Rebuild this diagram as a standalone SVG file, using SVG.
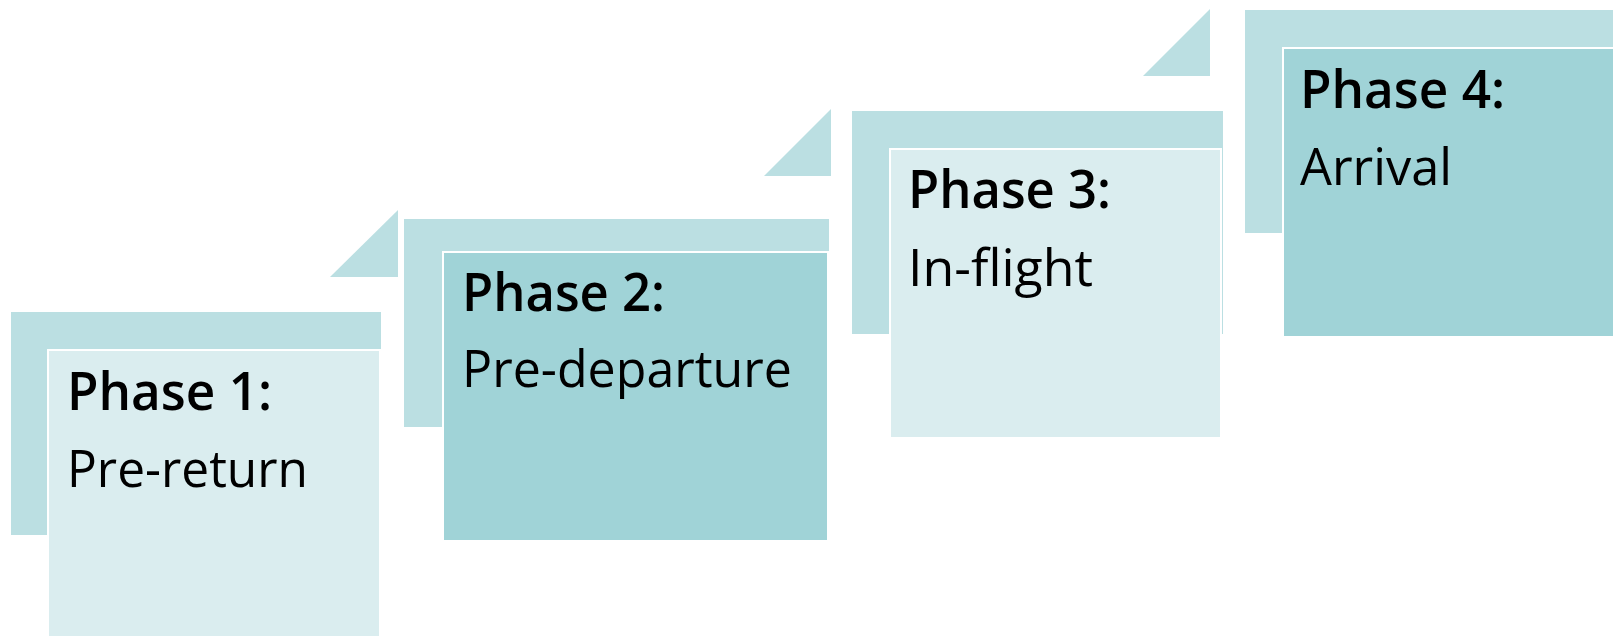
<svg xmlns="http://www.w3.org/2000/svg" width="1613" height="636" viewBox="0 0 1613 636">
<style>
.back{fill:#BBDFE2}
.tri{fill:#BBDFE2}
.light{fill:#DAEDEF;stroke:#FFFFFF;stroke-width:2}
.dark{fill:#A0D3D7;stroke:#FFFFFF;stroke-width:2}
.t1{font-family:"Open Sans","Liberation Sans",Arial,sans-serif;font-size:52px;font-weight:600;fill:#000}
.t2{font-family:"Open Sans","Liberation Sans",Arial,sans-serif;font-size:52px;font-weight:400;fill:#000}
</style>
<rect width="1613" height="636" fill="#FFFFFF"/>
<g id="connectors">
<polygon class="tri" points="330,277 398,210 398,277"/>
<polygon class="tri" points="764,176 831,109 831,176"/>
<polygon class="tri" points="1143,76 1210,9 1210,76"/>
</g>
<g id="phase1">
<rect class="back" x="11" y="312" width="370" height="223"/>
<rect class="light" x="48" y="350" width="332" height="287"/>
<text class="t1" x="67" y="410" textLength="205" lengthAdjust="spacingAndGlyphs">Phase 1:</text>
<text class="t2" x="67" y="487" textLength="241" lengthAdjust="spacingAndGlyphs">Pre-return</text>
</g>
<g id="phase2">
<rect class="back" x="404" y="219" width="425" height="208"/>
<rect class="dark" x="443" y="252" width="385" height="289"/>
<text class="t1" x="462" y="311" textLength="203" lengthAdjust="spacingAndGlyphs">Phase 2:</text>
<text class="t2" x="462" y="387" textLength="330" lengthAdjust="spacingAndGlyphs">Pre-departure</text>
</g>
<g id="phase3">
<rect class="back" x="852" y="111" width="371" height="223"/>
<rect class="light" x="890" y="149" width="331" height="289"/>
<text class="t1" x="908" y="208" textLength="203" lengthAdjust="spacingAndGlyphs">Phase 3:</text>
<text class="t2" x="908" y="286" textLength="185" lengthAdjust="spacingAndGlyphs">In-flight</text>
</g>
<g id="phase4">
<rect class="back" x="1245" y="10" width="370" height="223"/>
<rect class="dark" x="1283" y="48" width="332" height="289"/>
<text class="t1" x="1300" y="108" textLength="205" lengthAdjust="spacingAndGlyphs">Phase 4:</text>
<text class="t2" x="1300" y="185" textLength="152" lengthAdjust="spacingAndGlyphs">Arrival</text>
</g>
</svg>
